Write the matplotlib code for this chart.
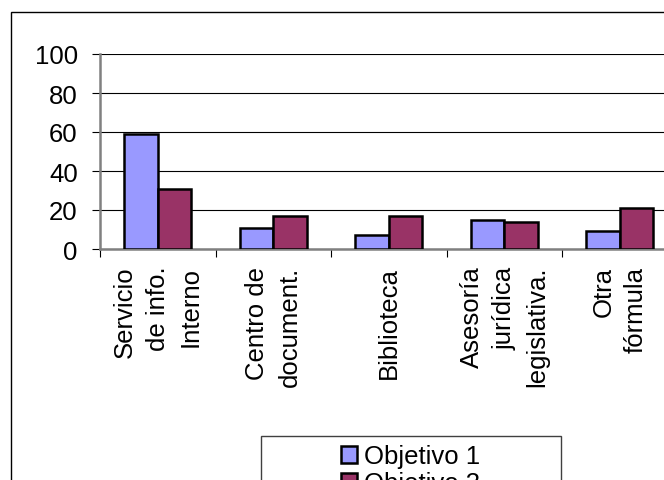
import matplotlib.pyplot as plt
import numpy as np
from matplotlib.patches import Rectangle

categorias = ["Servicio\nde info.\nInterno", "Centro de\ndocument.", "Biblioteca",
              "Asesoría\njurídica\nlegislativa.", "Otra\nfórmula"]
objetivo_1 = [59, 11, 7, 15, 9]
objetivo_3 = [31, 17, 17, 14, 21]
series = ["Objetivo 1", "Objetivo 3"]
y_ticks = [0, 20, 40, 60, 80, 100]

plt.rcParams["font.family"] = ["Liberation Sans", "DejaVu Sans"]
plt.rcParams["font.size"] = 18.5

fig = plt.figure(figsize=(6.64, 4.81), dpi=100)
ax = fig.add_axes([100/664, 1-250/481, 577.5/664, 195/481])

x = np.arange(len(categorias))
width = 0.29
b1 = ax.bar(x - width/2, objetivo_1, width, color="#9999FF", edgecolor="black",
            linewidth=1.8, label=series[0], zorder=3)
b2 = ax.bar(x + width/2, objetivo_3, width, color="#993366", edgecolor="black",
            linewidth=1.8, label=series[1], zorder=3)

ax.set_xlim(-0.5, len(categorias) - 0.5)
ax.set_ylim(0, 100)
ax.set_yticks(y_ticks)
ax.yaxis.grid(True, color="black", linewidth=0.8, zorder=0)
ax.tick_params(axis="y", length=6, width=0.8, pad=10, direction="out")

ax.set_xticks(x)
ax.set_xticklabels(categorias, rotation=90, va="top", ha="center",
                   multialignment="right", linespacing=1.45)
ax.tick_params(axis="x", which="major", length=0, pad=12)
ax.set_xticks(np.arange(len(categorias) + 1) - 0.5, minor=True)
ax.tick_params(axis="x", which="minor", length=6, width=0.8, direction="out")

for s in ["top", "right"]:
    ax.spines[s].set_visible(False)
for s in ["left", "bottom"]:
    ax.spines[s].set_color("#808080")
    ax.spines[s].set_linewidth(1.8)

# outer chart frame (cut off at right and bottom)
fig.patches.append(Rectangle((11/664, -0.2), 1.2, 0.2 + 1 - 13/481, fill=False,
                             edgecolor="black", linewidth=1, transform=fig.transFigure))
# legend box
fig.patches.append(Rectangle((261/664, -0.2), 300/664, 0.2 + 1 - 437/481, fill=False,
                             edgecolor="#404040", linewidth=1, transform=fig.transFigure))
fig.legend(handles=[b1, b2], loc="upper center", bbox_to_anchor=(411/664, 1-430/481),
           frameon=False, handlelength=0.6, handleheight=0.6, handletextpad=0.3,
           labelspacing=0.1, borderpad=0.1)

fig.savefig("out.png", dpi=100)
